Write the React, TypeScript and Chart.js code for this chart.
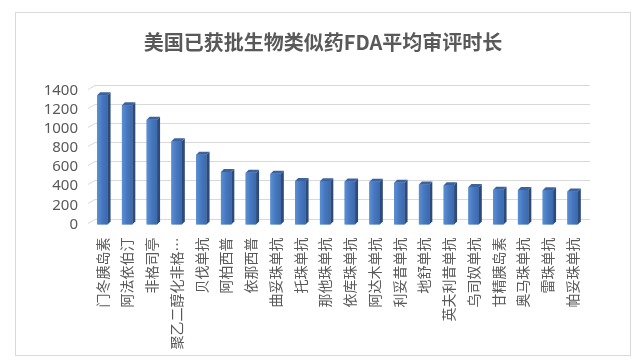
import React, { useEffect, useRef } from "react";
import { Chart, registerables } from "chart.js";

Chart.register(...registerables);

const TITLE = "美国已获批生物类似药FDA平均审评时长";
const categories = [
  "门冬胰岛素",
  "阿法依伯汀",
  "非格司亭",
  "聚乙二醇化非格司亭",
  "贝伐单抗",
  "阿柏西普",
  "依那西普",
  "曲妥珠单抗",
  "托珠单抗",
  "那他珠单抗",
  "依库珠单抗",
  "阿达木单抗",
  "利妥昔单抗",
  "地舒单抗",
  "英夫利昔单抗",
  "乌司奴单抗",
  "甘精胰岛素",
  "奥马珠单抗",
  "雷珠单抗",
  "帕妥珠单抗",
];
const values = [1350, 1245, 1095, 870, 730, 548, 540, 530, 455, 453, 450, 446, 435, 418, 411, 391, 362, 360, 358, 346];
const yMin = 0;
const yMax = 1400;
const yStep = 200;

const MAX_LABEL_CHARS = 7;

const FRONT = "#4677be";
const FRONT_L = "#5a8fd3";
const FRONT_R = "#3c69ac";
const SIDE = "#2c4a7c";
const TOP = "#3a63a0";
const GRID = "#d9d9d9";
const TEXT = "#595959";

const DX = 3;
const DY = 3;

const titlePlugin = {
  id: "centeredTitle",
  afterDraw(chart: any) {
    const { ctx, width } = chart;
    ctx.save();
    ctx.fillStyle = TEXT;
    ctx.font = "bold 20px 'Noto Sans CJK SC', sans-serif";
    ctx.textAlign = "center";
    ctx.textBaseline = "middle";
    ctx.fillText(TITLE, width / 2, 29);
    ctx.restore();
  },
};

const depthPlugin = {
  id: "depth3d",
  beforeDatasetsDraw(chart: any) {
    const { ctx, chartArea } = chart;
    const ys = chart.scales.y;
    ctx.save();
    ctx.strokeStyle = GRID;
    ctx.lineWidth = 1;
    ys.ticks.forEach((t: any) => {
      const y = Math.round(ys.getPixelForValue(t.value)) + 0.5;
      ctx.beginPath();
      ctx.moveTo(chartArea.left - 2, y - 2);
      ctx.lineTo(chartArea.left + 5, y - 6);
      ctx.lineTo(chartArea.right + 5, y - 6);
      ctx.stroke();
    });
    ctx.restore();
  },
  afterDatasetsDraw(chart: any) {
    const { ctx } = chart;
    const meta = chart.getDatasetMeta(0);
    ctx.save();
    meta.data.forEach((bar: any) => {
      const { x, y, base, width } = bar.getProps(["x", "y", "base", "width"], true);
      const l = x - width / 2;
      const r = x + width / 2;
      const g = ctx.createLinearGradient(l, 0, r, 0);
      g.addColorStop(0, FRONT_L);
      g.addColorStop(0.5, FRONT);
      g.addColorStop(1, FRONT_R);
      ctx.fillStyle = g;
      ctx.fillRect(l, y, r - l, base - y);
      ctx.fillStyle = SIDE;
      ctx.beginPath();
      ctx.moveTo(r, y);
      ctx.lineTo(r + DX, y - DY);
      ctx.lineTo(r + DX, base - DY);
      ctx.lineTo(r, base);
      ctx.closePath();
      ctx.fill();
      ctx.fillStyle = TOP;
      ctx.beginPath();
      ctx.moveTo(l, y);
      ctx.lineTo(l + DX, y - DY);
      ctx.lineTo(r + DX, y - DY);
      ctx.lineTo(r, y);
      ctx.closePath();
      ctx.fill();
    });
    ctx.restore();
  },
};

export default function App() {
  const ref = useRef<HTMLCanvasElement>(null);

  useEffect(() => {
    if (!ref.current) return;
    const chart = new Chart(ref.current, {
      type: "bar",
      data: {
        labels: categories,
        datasets: [
          {
            data: values,
            backgroundColor: FRONT,
            borderWidth: 0,
            barPercentage: 0.42,
            categoryPercentage: 1,
          },
        ],
      },
      options: {
        responsive: false,
        animation: false,
        layout: { padding: { left: 0, right: 45, top: 77.5, bottom: 0 } },
        plugins: {
          legend: { display: false },
          tooltip: { enabled: false },
          title: { display: false },
        },
        scales: {
          x: {
            grid: { display: false, drawTicks: false },
            border: { display: false },
            ticks: {
              autoSkip: false,
              minRotation: 90,
              maxRotation: 90,
              padding: 13,
              color: TEXT,
              font: { family: "'Noto Sans CJK SC', sans-serif", size: 14 },
              callback: function (this: any, value: any) {
                const s = String(this.getLabelForValue(value));
                return s.length > MAX_LABEL_CHARS ? s.slice(0, MAX_LABEL_CHARS) + "…" : s;
              },
            },
            afterFit: (scale: any) => {
              scale.height = 130.5;
            },
          },
          y: {
            min: yMin,
            max: yMax,
            grid: { display: false, drawTicks: false },
            border: { display: false },
            ticks: {
              stepSize: yStep,
              autoSkip: false,
              padding: 12,
              color: TEXT,
              font: { family: "'Noto Sans', sans-serif", size: 15 },
              callback: (v: any) => String(v),
            },
            afterFit: (scale: any) => {
              scale.width = 74;
            },
          },
        },
      },
      plugins: [depthPlugin, titlePlugin],
    });
    return () => chart.destroy();
  }, []);

  return (
    <div style={{ position: "absolute", left: 0, top: 0, width: 643, height: 363, background: "#fff" }}>
      <div
        style={{
          position: "absolute",
          left: 15,
          top: 12,
          width: 616,
          height: 344,
          boxSizing: "border-box",
          border: "1px solid #d9d9d9",
        }}
      />
      <canvas
        ref={ref}
        width={614}
        height={342}
        style={{ position: "absolute", left: 16, top: 13, width: 614, height: 342 }}
      />
    </div>
  );
}
